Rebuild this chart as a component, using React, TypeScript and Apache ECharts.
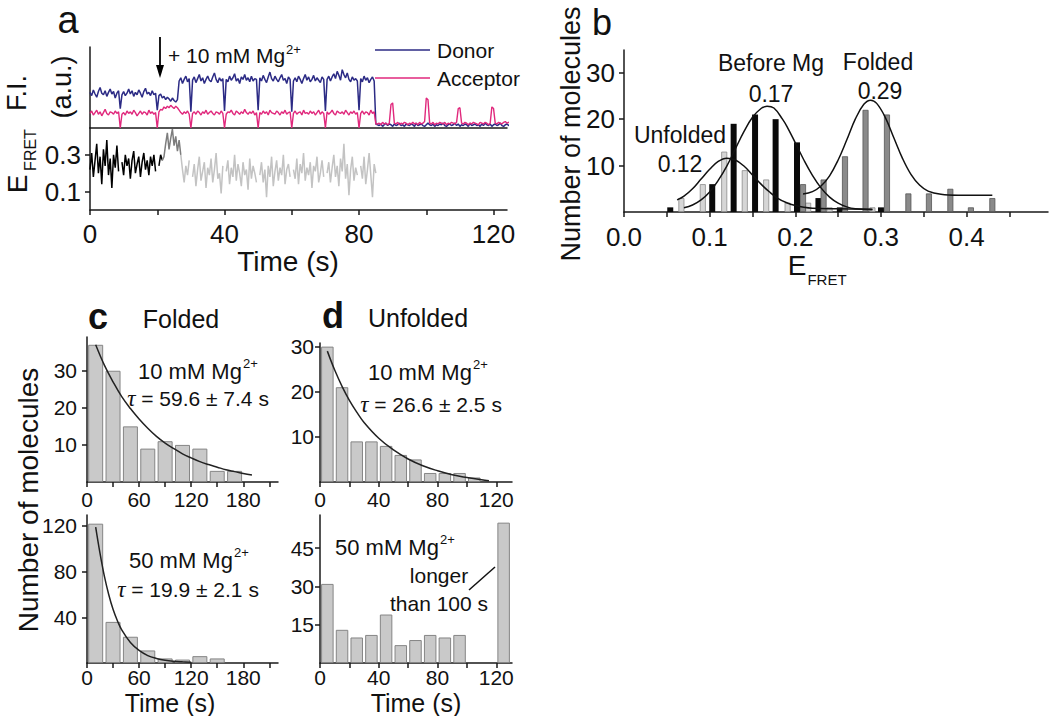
import React, { useEffect, useRef } from "react";
import * as echarts from "echarts";

// ---------------- Panel a: single-molecule traces (0.5 s sampling) ----------------
const TRACE_DT = 0.5;
const DONOR = [
  44, 40, 47, 42, 38, 45, 50, 43, 41, 46, 39, 44, 48, 42, 45, 37, 43, 46,
  24, 41,
  45, 40, 43, 48, 42, 46, 39, 44, 41, 47, 43, 38, 45, 49, 42, 44, 40, 46, 41, 43,
  22,
  40, 42, 37, 39, 35, 38, 36, 33, 37, 34, 32, 35,
  58, 62, 55, 60, 64, 57, 61,
  20,
  59, 63, 56, 61, 66, 58, 62, 55, 60, 64, 59, 57, 63, 68, 60, 56, 62, 58, 61,
  21,
  60, 57, 64, 59, 62, 67, 58, 61, 55, 63, 60, 66, 59, 62, 57, 64, 58, 61, 60,
  22,
  62, 58, 65, 60, 56, 63, 69, 61, 58, 64, 60, 57, 62, 66, 59, 61, 55, 63, 60,
  20,
  58, 62, 57, 64, 60, 55, 61, 66, 59, 63, 57, 60, 65, 58, 62, 59, 56, 63, 60,
  21,
  60, 64, 58, 63, 67, 61, 70, 65, 59, 72, 66, 62, 68, 60, 57, 63, 59, 61, 58,
  22,
  61, 57, 64, 59, 62, 56, 60, 63, 58,
  5,
  4, 3, 5, 2, 4, 6, 3, 5, 4, 2, 5, 3, 4, 6, 3, 4, 2, 5, 4, 3,
  5, 4, 2, 6, 3, 4, 5, 3, 2, 4, 6, 4, 3, 5, 2, 4, 3, 5, 4, 6,
  3, 2, 4, 5, 3, 4, 6, 3, 5, 2, 4, 3, 5, 4, 2, 6, 3, 4, 5, 3,
  4, 2, 5, 3, 6, 4, 3, 5, 2, 4, 5, 3, 4, 6, 3, 2, 4, 5, 3, 4,
];
const ACCEPTOR = [
  18, 21, 16, 19, 22, 17, 20, 15, 19, 23, 18, 16, 20, 19, 17, 21, 18, 20,
  0, 17,
  19, 16, 21, 18, 20, 17, 22, 19, 15, 18, 21, 17, 20, 19, 16, 22, 18, 20, 17, 19,
  0,
  20, 23, 22, 26, 24, 27, 25, 28, 26, 24, 27, 25,
  22, 19, 17, 20, 18, 21, 17,
  0,
  18, 20, 17, 21, 19, 16, 20, 18, 22, 17, 19, 21, 18, 16, 20, 19, 17, 21, 18,
  0,
  17, 20, 19, 22, 18, 16, 21, 19, 17, 20, 18, 23, 19, 17, 20, 18, 21, 16, 19,
  0,
  19, 17, 21, 18, 20, 16, 22, 19, 18, 17, 21, 19, 16, 20, 18, 22, 17, 19, 20,
  0,
  18, 21, 17, 19, 20, 16, 22, 18, 19, 17, 21, 18, 20, 16, 19, 22, 17, 20, 18,
  0,
  20, 17, 19, 22, 18, 16, 21, 19, 18, 20, 17, 22, 19, 16, 20, 18, 21, 17, 19,
  0,
  18, 21, 17, 20, 19, 16, 22, 18, 20,
  5,
  5, 6, 4, 7, 5, 6, 4, 6, 29, 31, 6, 5, 7, 4, 6, 5, 7, 6, 4, 6,
  5, 7, 5, 6, 4, 7, 5, 6, 8, 37, 35, 6, 5, 7, 4, 6, 5, 7, 6, 5,
  7, 4, 6, 5, 7, 6, 5, 7, 24, 25, 6, 5, 7, 6, 4, 6, 5, 7, 6, 5,
  4, 7, 6, 5, 7, 6, 4, 6, 26, 24, 6, 5, 7, 6, 5, 7, 8, 6, 7, 8,
];
const EFRET_BLACK_T0 = 0;
const EFRET_BLACK = [
  0.22, 0.31, 0.18, 0.27, 0.36, 0.2, 0.29, 0.14, 0.33, 0.24, 0.38, 0.19, 0.28, 0.12, 0.3, 0.23, 0.35, 0.21,
  null,
  0.26, 0.19, 0.3, 0.24, 0.28, 0.17, 0.27, 0.32, 0.2, 0.25, 0.29, 0.18, 0.26, 0.31, 0.22, 0.27, 0.19, 0.29, 0.24, 0.3, 0.21,
  null,
  0.24, 0.3, 0.27,
];
const EFRET_DARK_T0 = 21.5;
const EFRET_DARK = [0.27, 0.29, 0.36, 0.42, 0.33, 0.39, 0.44, 0.35, 0.4, 0.32, 0.38, 0.3];
const EFRET_LIGHT_T0 = 27;
const EFRET_LIGHT = [
  0.3, 0.22, 0.15, 0.24, 0.19, 0.27,
  null,
  0.18, 0.25, 0.13, 0.22, 0.29, 0.16, 0.21, 0.26, 0.12, 0.23, 0.19, 0.28, 0.15, 0.22, 0.31, 0.17, 0.2, 0.09, 0.24,
  null,
  0.21, 0.27, 0.14, 0.23, 0.18, 0.3, 0.16, 0.25, 0.2, 0.13, 0.26, 0.19, 0.22, 0.11, 0.28, 0.17, 0.24, 0.2, 0.15,
  null,
  0.19, 0.26, 0.15, 0.22, 0.07, 0.24, 0.18, 0.29, 0.13, 0.21, 0.27, 0.16, 0.23, 0.19, 0.3, 0.14, 0.22, 0.25, 0.18,
  null,
  0.22, 0.17, 0.28, 0.14, 0.25, 0.2, 0.31, 0.16, 0.23, 0.19, 0.26, 0.12, 0.24, 0.21, 0.29, 0.15, 0.2, 0.27, 0.18,
  null,
  0.2, 0.26, 0.15, 0.23, 0.3, 0.18, 0.24, 0.13, 0.28, 0.21, 0.36, 0.17, 0.25, 0.08, 0.22, 0.29, 0.16, 0.23, 0.19,
  null,
  0.24, 0.17, 0.29, 0.14, 0.22, 0.31, 0.19, 0.07, 0.25, 0.2,
];

// ---------------- Panel b: E_FRET histograms ----------------
const B_UNFOLDED_E = [0.067, 0.092, 0.117, 0.141, 0.166, 0.191, 0.215, 0.24, 0.29];
const B_UNFOLDED_N = [3, 6, 13, 9, 7, 2, 2, 1, 1];
const B_BEFORE_E = [0.054, 0.103, 0.128, 0.153, 0.177, 0.202, 0.227, 0.252, 0.3];
const B_BEFORE_N = [1, 6, 19, 21, 20, 15, 3, 1, 1];
const B_FOLDED_E = [0.209, 0.233, 0.258, 0.282, 0.307, 0.332, 0.356, 0.381, 0.405, 0.43];
const B_FOLDED_N = [6, 7, 12, 22, 21, 4, 4, 5, 1, 3];
const B_FIT_UNFOLDED = [
  [0.062, 2.6], [0.07, 3.4], [0.08, 5.0], [0.09, 7.1], [0.1, 9.2], [0.11, 10.9], [0.12, 11.6],
  [0.13, 11.2], [0.14, 9.9], [0.15, 8.0], [0.16, 6.0], [0.17, 4.3], [0.18, 2.9], [0.19, 2.0],
  [0.2, 1.4], [0.21, 1.0], [0.22, 0.8], [0.25, 0.7], [0.29, 0.6],
];
const B_FIT_BEFORE = [
  [0.07, 0.9], [0.08, 1.5], [0.09, 2.6], [0.1, 4.3], [0.11, 6.8], [0.12, 9.9], [0.13, 13.6],
  [0.14, 17.3], [0.15, 20.4], [0.16, 22.3], [0.167, 22.8], [0.175, 22.4], [0.185, 20.0], [0.19, 18.5],
  [0.2, 14.9], [0.21, 11.2], [0.22, 7.9], [0.23, 5.2], [0.24, 3.2], [0.25, 1.9], [0.26, 1.1],
  [0.27, 0.7], [0.29, 0.5],
];
const B_FIT_FOLDED = [
  [0.209, 3.9], [0.22, 4.4], [0.23, 5.6], [0.24, 7.8], [0.25, 11.2], [0.26, 15.5], [0.27, 20.0],
  [0.28, 23.2], [0.288, 24.1], [0.295, 23.4], [0.305, 20.4], [0.315, 16.0], [0.325, 11.6],
  [0.335, 8.1], [0.345, 5.8], [0.355, 4.5], [0.37, 3.8], [0.39, 3.6], [0.43, 3.6],
];

// ---------------- Panels c, d: dwell-time histograms ----------------
const C_BIN_CENTERS = [10, 30, 50, 70, 90, 110, 130, 150, 170];
const C_TOP_COUNTS = [37, 30, 15, 9, 11, 10, 9, 3, 3];
const C_BOT_COUNTS = [122, 36, 23, 11, 4, 3, 6, 4];
const C_TOP_FIT = [
  [10, 37], [20, 31.5], [30, 27], [40, 23], [50, 19.8], [60, 17], [70, 14.5], [80, 12.3],
  [90, 10.5], [100, 9], [110, 7.6], [120, 6.5], [130, 5.5], [140, 4.7], [150, 4], [160, 3.3],
  [170, 2.8], [180, 2.3], [190, 1.9],
];
const C_BOT_FIT = [
  [10, 119], [15, 96], [20, 76], [25, 60], [30, 47], [35, 37], [40, 29], [50, 18], [60, 11],
  [70, 6.5], [80, 4], [90, 2.4], [100, 1.5], [110, 1], [120, 0.6],
];
const D_TOP_CENTERS = [5, 15, 25, 35, 45, 55, 65, 75, 85, 95, 105];
const D_TOP_COUNTS = [30, 21, 9, 9, 8, 6, 5, 2, 2, 2, 1];
const D_BOT_CENTERS = [5, 15, 25, 35, 45, 55, 65, 75, 85, 95, 125];
const D_BOT_COUNTS = [31, 13, 10, 11, 19, 7, 9, 11, 10, 11, 55];
const D_TOP_FIT = [
  [5, 29], [10, 24.8], [15, 21.2], [20, 18.1], [25, 15.5], [30, 13.2], [40, 9.7], [50, 7.1],
  [60, 5.1], [70, 3.6], [80, 2.5], [90, 1.6], [100, 1], [110, 0.5], [115, 0.3],
];

// ---------------- tick labels ----------------
const A_X_TICKS = [0, 20, 40, 60, 80, 100, 120];
const A_X_LABELS = [0, 40, 80, 120];
const A_Y_LABELS = [0.1, 0.3];
const B_X_TICKS = [0, 0.05, 0.1, 0.15, 0.2, 0.25, 0.3, 0.35, 0.4, 0.45];
const B_X_LABELS = [0, 0.1, 0.2, 0.3, 0.4];
const B_Y_LABELS = [10, 20, 30];
const C_X_TICKS = [0, 30, 60, 90, 120, 150, 180, 210];
const C_X_LABELS = [0, 60, 120, 180];
const C_TOP_Y_LABELS = [10, 20, 30];
const C_BOT_Y_LABELS = [40, 80, 120];
const D_X_TICKS = [0, 20, 40, 60, 80, 100, 120];
const D_X_LABELS = [0, 40, 80, 120];
const D_TOP_Y_LABELS = [10, 20, 30];
const D_BOT_Y_LABELS = [15, 30, 45];

const FONT = "'Liberation Sans', Arial, Helvetica, sans-serif";
const SERIF = "'Liberation Serif', 'Times New Roman', serif";
const AX = "#1a1a1a";
const TXT = "#111";

function axisCfg(grid: number, min: number, max: number, ticks: number[] | null, labels: number[] | null, fs: number, margin: number, fmt?: (v: number) => string) {
  return {
    type: "value",
    gridIndex: grid,
    min,
    max,
    axisLine: { show: true, onZero: false, lineStyle: { color: AX, width: 1.5 } },
    axisTick: ticks
      ? { show: true, inside: false, length: 5, customValues: ticks, lineStyle: { color: AX, width: 1.5 } }
      : { show: false },
    axisLabel: labels
      ? { show: true, customValues: labels, fontSize: fs, lineHeight: fs, fontFamily: FONT, color: TXT, margin, ...(fmt ? { formatter: fmt } : {}) }
      : { show: false },
    splitLine: { show: false },
    minorTick: { show: false },
  };
}

function pairs(xs: number[], ys: number[]) {
  return xs.map((x, i) => [x, ys[i]]);
}
function trace(vals: (number | null)[], t0: number) {
  return vals.map((v, i) => [t0 + i * TRACE_DT, v === null ? "-" : v]);
}

function txt(x: number, y: number, text: string, fs: number, o: any = {}) {
  const align = o.align || "center";
  return {
    type: "text",
    x,
    y,
    rotation: o.rot || 0,
    silent: true,
    style: {
      text,
      fontSize: fs,
      lineHeight: o.lh || fs,
      fontFamily: o.family || FONT,
      fontWeight: o.weight || "normal",
      fontStyle: o.fstyle || "normal",
      fill: TXT,
      align,
      verticalAlign: "middle",
      textAlign: align,
      textVerticalAlign: "middle",
      ...(o.rich ? { rich: o.rich } : {}),
    },
  };
}
function tauText(x: number, y: number, rest: string) {
  return txt(x, y, "{t|τ}{n|" + rest + "}", 21, {
    rich: {
      t: { fontFamily: SERIF, fontStyle: "italic", fontSize: 23, lineHeight: 23, fill: TXT },
      n: { fontFamily: FONT, fontSize: 21, lineHeight: 23, fill: TXT },
    },
  });
}
function seg(x1: number, y1: number, x2: number, y2: number, color: string, w: number) {
  return { type: "line", silent: true, shape: { x1, y1, x2, y2 }, style: { stroke: color, lineWidth: w } };
}

const DONOR_COLOR = "#2c2b85";
const ACCEPTOR_COLOR = "#e0287c";

export default function App() {
  const ref = useRef<HTMLDivElement>(null);
  useEffect(() => {
    if (!ref.current) return;
    const chart = echarts.init(ref.current, null, { renderer: "svg" });

    const grids = [
      { left: 90, top: 47, width: 417, height: 81 }, // a top
      { left: 90, top: 128, width: 417, height: 82 }, // a bottom
      { left: 624, top: 50, width: 424, height: 162 }, // b
      { left: 87, top: 337, width: 191, height: 145 }, // c top
      { left: 87, top: 515, width: 191, height: 148 }, // c bottom
      { left: 320, top: 343, width: 192, height: 139 }, // d top
      { left: 320, top: 515, width: 192, height: 148 }, // d bottom
    ].map((g) => ({ ...g, containLabel: false, outerBoundsMode: "none", show: false }));

    const f1 = (v: number) => v.toFixed(1);
    const xAxis = [
      axisCfg(0, 0, 124, null, null, 0, 0),
      axisCfg(1, 0, 124, A_X_TICKS, A_X_LABELS, 26, 11),
      axisCfg(2, 0, 0.495, B_X_TICKS, B_X_LABELS, 26, 12, f1),
      axisCfg(3, 0, 220, C_X_TICKS, C_X_LABELS, 21, 7),
      axisCfg(4, 0, 220, C_X_TICKS, C_X_LABELS, 21, 4),
      axisCfg(5, 0, 130.7, D_X_TICKS, D_X_LABELS, 21, 7),
      axisCfg(6, 0, 130.7, D_X_TICKS, D_X_LABELS, 21, 4),
    ];
    const yAxis = [
      axisCfg(0, 0, 100, null, null, 0, 0),
      axisCfg(1, 0, 0.446, A_Y_LABELS, A_Y_LABELS, 26, 9, f1),
      axisCfg(2, 0, 34.9, B_Y_LABELS, B_Y_LABELS, 26, 9),
      axisCfg(3, 0, 39.1, C_TOP_Y_LABELS, C_TOP_Y_LABELS, 21, 10),
      axisCfg(4, 0, 129.6, C_BOT_Y_LABELS, C_BOT_Y_LABELS, 21, 10),
      axisCfg(5, 0, 30.8, D_TOP_Y_LABELS, D_TOP_Y_LABELS, 21, 6),
      axisCfg(6, 0, 58, D_BOT_Y_LABELS, D_BOT_Y_LABELS, 21, 6),
    ];

    const lineS = (idx: number, data: any[], color: string, w: number, smooth: number | boolean = false, z = 3) => ({
      type: "line",
      xAxisIndex: idx,
      yAxisIndex: idx,
      data,
      showSymbol: false,
      symbol: "none",
      smooth,
      connectNulls: false,
      silent: true,
      z,
      lineStyle: { color, width: w },
    });
    const histBar = { color: "#c9c9c9", borderColor: "#858585", borderWidth: 1 };
    const barS = (idx: number, data: any[], width: number, style: any) => ({
      type: "bar",
      xAxisIndex: idx,
      yAxisIndex: idx,
      data,
      barWidth: width,
      barGap: "-100%",
      silent: true,
      z: 2,
      itemStyle: style,
    });

    const series = [
      lineS(0, trace(DONOR, 0), DONOR_COLOR, 1.5),
      lineS(0, trace(ACCEPTOR, 0), ACCEPTOR_COLOR, 1.4),
      lineS(1, trace(EFRET_BLACK, EFRET_BLACK_T0), "#000000", 1.5),
      lineS(1, trace(EFRET_DARK, EFRET_DARK_T0), "#7d7d7d", 1.5),
      lineS(1, trace(EFRET_LIGHT, EFRET_LIGHT_T0), "#c3c3c3", 1.5),
      barS(2, pairs(B_UNFOLDED_E, B_UNFOLDED_N), 6, { color: "#d6d6d6", borderColor: "#8c8c8c", borderWidth: 0.8 }),
      barS(2, pairs(B_BEFORE_E, B_BEFORE_N), 6, { color: "#0a0a0a" }),
      barS(2, pairs(B_FOLDED_E, B_FOLDED_N), 6, { color: "#8a8a8a", borderColor: "#555555", borderWidth: 0.8 }),
      lineS(2, B_FIT_UNFOLDED, "#111", 1.5, 0.4, 4),
      lineS(2, B_FIT_BEFORE, "#111", 1.5, 0.4, 4),
      lineS(2, B_FIT_FOLDED, "#111", 1.5, 0.4, 4),
      barS(3, pairs(C_BIN_CENTERS, C_TOP_COUNTS), 15, histBar),
      lineS(3, C_TOP_FIT, "#222", 1.5, 0.4, 4),
      barS(4, pairs(C_BIN_CENTERS.slice(0, C_BOT_COUNTS.length), C_BOT_COUNTS), 15, histBar),
      lineS(4, C_BOT_FIT, "#222", 1.5, 0.4, 4),
      barS(5, pairs(D_TOP_CENTERS, D_TOP_COUNTS), 12.5, histBar),
      lineS(5, D_TOP_FIT, "#222", 1.5, 0.4, 4),
      barS(6, pairs(D_BOT_CENTERS, D_BOT_COUNTS), 12.5, histBar),
    ];

    const R = Math.PI / 2;
    const graphic = [
      // panel letters & titles
      txt(68, 20, "a", 38, { lh: 30 }),
      txt(602, 22, "b", 36, { lh: 32 }),
      txt(98, 316, "c", 36, { weight: "bold", lh: 30 }),
      txt(333, 315, "d", 36, { weight: "bold", lh: 30 }),
      txt(181, 319, "Folded", 25),
      txt(418, 318, "Unfolded", 25),
      // panel a labels
      txt(17, 93, "F.I.", 27, { rot: R, lh: 24 }),
      txt(62, 87, "(a.u.)", 27, { rot: R, lh: 26 }),
      txt(17, 184, "E", 28, { rot: R, lh: 24 }),
      txt(30, 150, "FRET", 16, { rot: R }),
      txt(288, 261, "Time (s)", 28),
      seg(160, 37, 160, 68, "#000", 1.8),
      { type: "polygon", silent: true, shape: { points: [[156, 65], [164, 65], [160, 78]] }, style: { fill: "#000" } },
      txt(168, 55, "+ 10 mM Mg", 21, { align: "left" }),
      txt(286, 49, "2+", 13, { align: "left" }),
      seg(375, 50, 430, 50, DONOR_COLOR, 1.5),
      txt(437, 50, "Donor", 21, { align: "left" }),
      seg(375, 78, 430, 78, ACCEPTOR_COLOR, 1.5),
      txt(437, 78, "Acceptor", 21, { align: "left" }),
      // panel b labels
      txt(571, 134, "Number of molecules", 27, { rot: R, lh: 24 }),
      txt(797, 265, "E", 28, { lh: 24 }),
      txt(827, 279, "FRET", 15),
      txt(771, 63, "Before Mg", 23),
      txt(771, 94, "0.17", 23),
      txt(878, 62, "Folded", 23),
      txt(880, 91, "0.29", 23),
      txt(680, 135, "Unfolded", 23),
      txt(680, 164, "0.12", 23),
      // panels c, d
      txt(28, 500, "Number of molecules", 28, { rot: R, lh: 24 }),
      txt(170, 703, "Time (s)", 25, { lh: 22 }),
      txt(416, 703, "Time (s)", 25, { lh: 22 }),
      txt(138, 371, "10 mM Mg", 22, { align: "left" }),
      txt(243, 363, "2+", 13, { align: "left" }),
      tauText(198, 398, " = 59.6 ± 7.4 s"),
      txt(129, 560, "50 mM Mg", 22, { align: "left" }),
      txt(234, 552, "2+", 13, { align: "left" }),
      tauText(188, 589, " = 19.9 ± 2.1 s"),
      txt(368, 372, "10 mM Mg", 22, { align: "left" }),
      txt(473, 364, "2+", 13, { align: "left" }),
      tauText(431, 404, " = 26.6 ± 2.5 s"),
      txt(335, 547, "50 mM Mg", 22, { align: "left" }),
      txt(440, 539, "2+", 13, { align: "left" }),
      txt(439, 575, "longer", 21),
      txt(439, 603, "than 100 s", 21),
      seg(469, 590, 495, 567, "#111", 1.5),
    ];

    chart.setOption({
      animation: false,
      backgroundColor: "#ffffff",
      textStyle: { fontFamily: FONT },
      grid: grids,
      xAxis,
      yAxis,
      series,
      graphic,
    });
    return () => chart.dispose();
  }, []);
  return (
    <div
      ref={ref}
      style={{ position: "absolute", left: 0, top: 0, width: 1050, height: 716, background: "#fff" }}
    />
  );
}
